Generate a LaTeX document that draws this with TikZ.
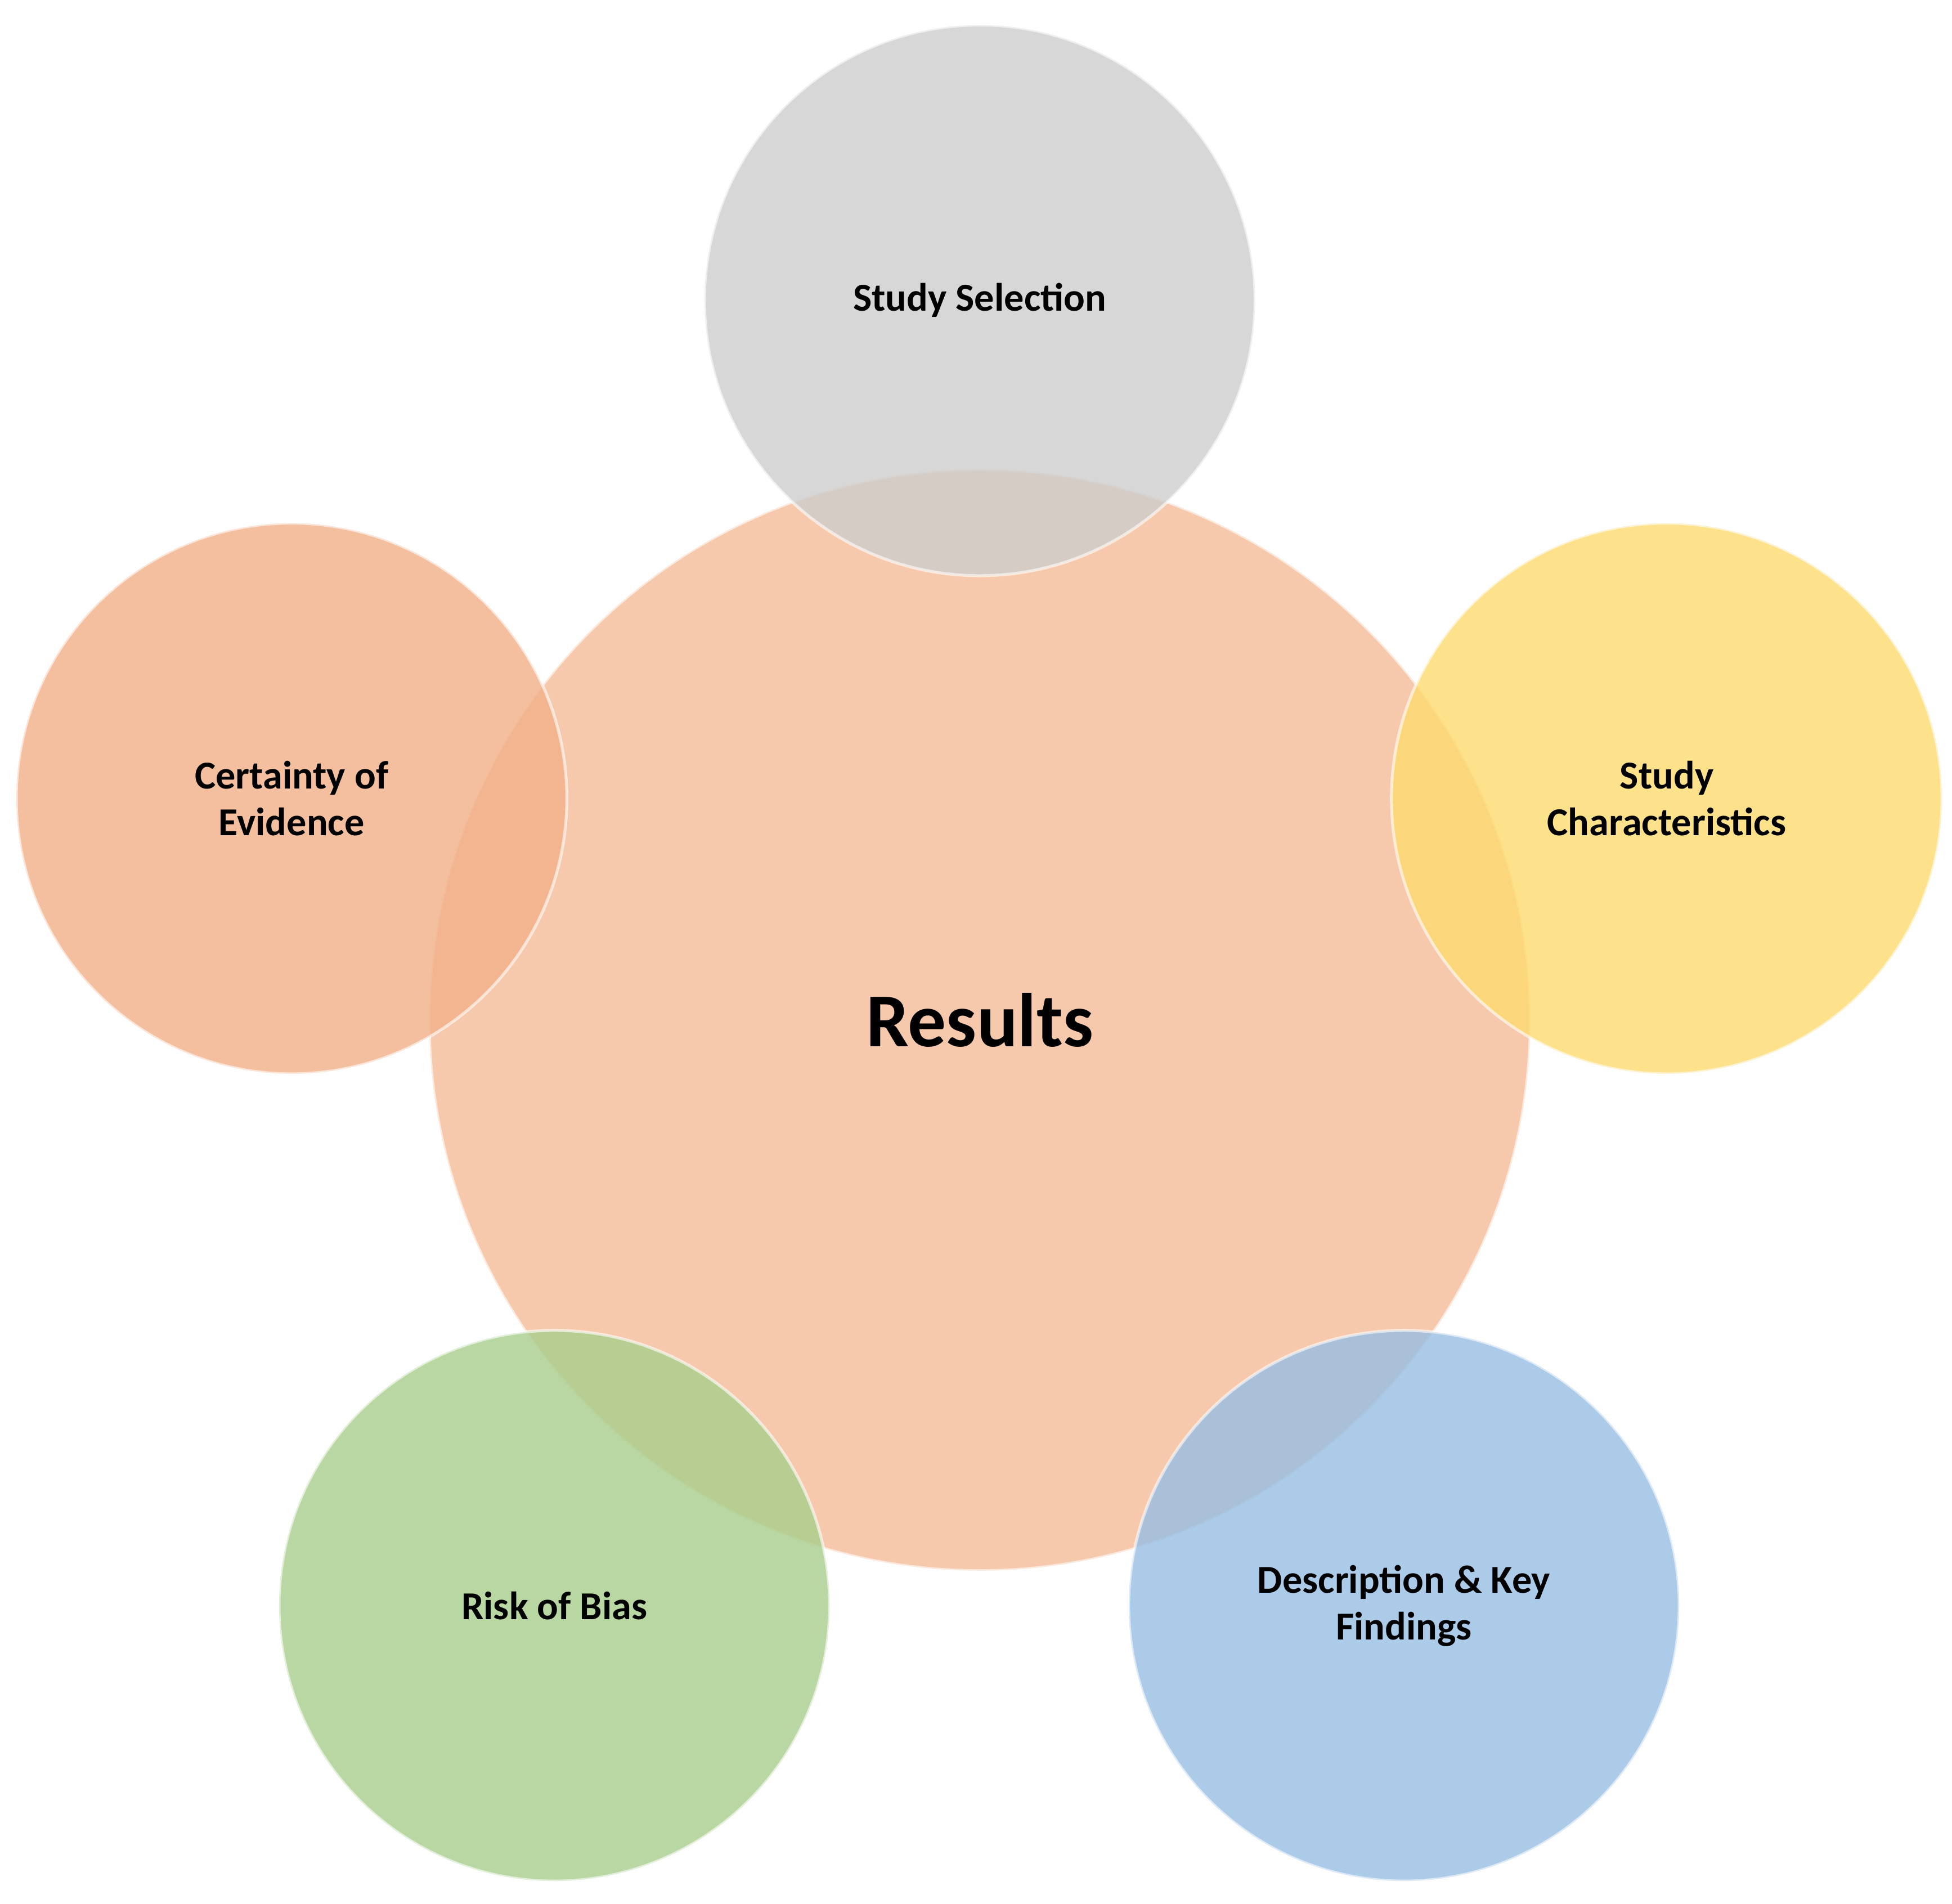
\documentclass[tikz,border=0pt]{standalone}
\usepackage{fontspec}
\setmainfont{Carlito}
\begin{document}
\begin{tikzpicture}[x=0.03cm,y=-0.03cm,
  bub/.style={circle,minimum size=#1*0.06cm,inner sep=0pt,fill opacity=0.8,text opacity=1,draw=white,line width=2pt,draw opacity=0.6,align=center,font=\bfseries\fontsize{27}{32}\selectfont}]
\useasboundingbox (0,0) rectangle (1560,1521);
\fill[white] (0,0) rectangle (1560,1521);
\node[bub=440,fill={rgb,255:red,244;green,188;blue,152},font=\bfseries\fontsize{52}{60}\selectfont] (r) at (783,815) {Results};
\node[bub=220,fill={rgb,255:red,205;green,205;blue,205}] (s) at (783,240) {Study Selection};
\node[bub=220,fill={rgb,255:red,242;green,176;blue,136}] (c) at (233,638) {Certainty of\\Evidence};
\node[bub=220,fill={rgb,255:red,253;green,218;blue,110}] (k) at (1332,638) {Study\\Characteristics};
\node[bub=220,fill={rgb,255:red,168;green,206;blue,140}] (b) at (443,1283) {Risk of Bias};
\node[bub=220,fill={rgb,255:red,150;green,190;blue,228}] (d) at (1122,1283) {Description \& Key\\Findings};
\end{tikzpicture}
\end{document}
